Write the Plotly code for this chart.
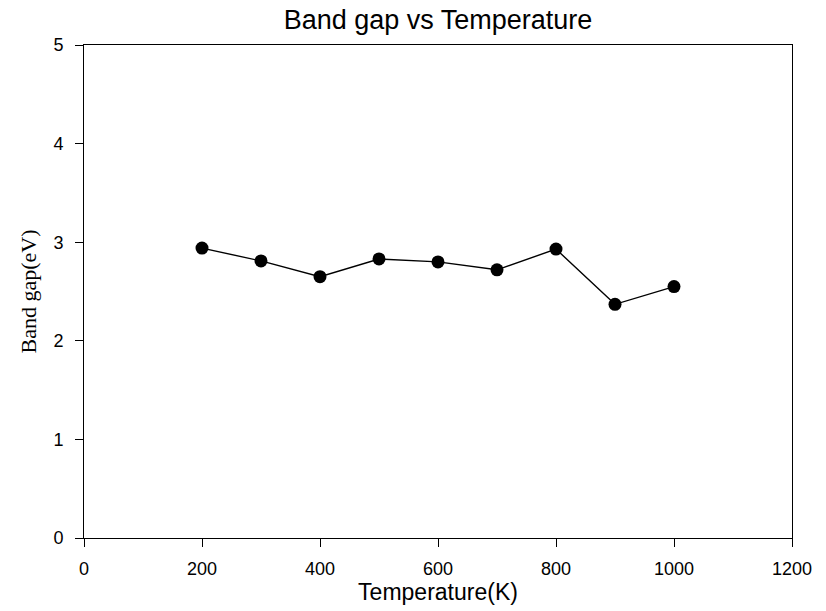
import plotly.graph_objects as go

temperature = [200, 300, 400, 500, 600, 700, 800, 900, 1000]
band_gap = [2.94, 2.81, 2.65, 2.83, 2.80, 2.72, 2.93, 2.37, 2.55]

fig = go.Figure()
fig.add_trace(go.Scatter(
    x=temperature, y=band_gap, mode="lines+markers",
    line=dict(color="black", width=1.4),
    marker=dict(color="black", size=13),
    showlegend=False,
))

fig.update_layout(
    width=826, height=611,
    margin=dict(l=84, r=34, t=45, b=71),
    paper_bgcolor="white", plot_bgcolor="white",
    title=dict(text="Band gap vs Temperature", x=0.5, xref="paper", y=0.968, yanchor="middle",
               font=dict(family="Liberation Sans, Arial", size=27, color="black")),
    font=dict(family="Liberation Sans, Arial", size=18, color="black"),
)
fig.update_xaxes(
    range=[0, 1200], tickvals=[0, 200, 400, 600, 800, 1000, 1200],
    ticks="outside", ticklen=8, tickcolor="black", showgrid=False, zeroline=False,
    showline=True, linecolor="black", linewidth=1, mirror=True,
    ticklabelstandoff=6,
    title=dict(text="Temperature(K)", font=dict(family="Liberation Sans, Arial", size=23), standoff=4),
    tickfont=dict(size=18),
)
fig.update_yaxes(
    range=[0, 5], tickvals=[0, 1, 2, 3, 4, 5],
    ticks="outside", ticklen=8, tickcolor="black", showgrid=False, zeroline=False,
    showline=True, linecolor="black", linewidth=1, mirror=True,
    ticklabelstandoff=8,
    title=dict(text="Band gap(eV)", font=dict(family="Liberation Serif, Times New Roman", size=22), standoff=10),
    tickfont=dict(size=18),
)

fig.write_html("out.html")
